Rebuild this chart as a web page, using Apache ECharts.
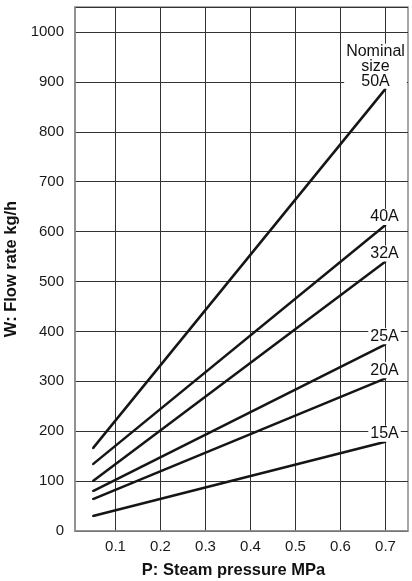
<!DOCTYPE html>
<html>
<head>
<meta charset="utf-8">
<script src="https://cdn.jsdelivr.net/npm/echarts@6/dist/echarts.min.js"></script>
<style>html,body{margin:0;padding:0;background:#fff}#c{width:412px;height:581px}</style>
</head>
<body>
<div id="c"></div>
<script>
// Data
const pressure = [0.05, 0.7];                 // MPa
const sizes = ['50A', '40A', '32A', '25A', '20A', '15A'];
const flow50A = [166, 886];
const flow40A = [134, 613];
const flow32A = [100, 540];
const flow25A = [80, 374];
const flow20A = [64, 306];
const flow15A = [30, 179];
const xTicks = [0.1, 0.2, 0.3, 0.4, 0.5, 0.6, 0.7];
const yMaxLabel = 1000;

const flows = [flow50A, flow40A, flow32A, flow25A, flow20A, flow15A];
const FONT = "'Liberation Sans', Arial, Helvetica, sans-serif";

const series = sizes.map((name, k) => {
  const isFirst = k === 0;
  const last = pressure.length - 1;
  return {
    name: name,
    type: 'line',
    symbol: 'circle',
    symbolSize: 2,
    showSymbol: true,
    z: 5,
    itemStyle: { color: '#151515' },
    lineStyle: { color: '#151515', width: 2.5 },
    data: pressure.map((p, i) => {
      const item = { value: [p, flows[k][i]] };
      if (i === last) {
        item.label = {
          show: true,
          position: 'top',
          distance: 2,
          offset: isFirst ? [-10, 3] : [-1, 3],
          formatter: isFirst ? 'Nominal\nsize\n' + name : name,
          fontFamily: FONT,
          fontSize: 16,
          lineHeight: isFirst ? 15 : 16,
          color: '#111',
          align: 'center',
          backgroundColor: '#fff',
          padding: [0, 2, 0, 2]
        };
      }
      return item;
    })
  };
});

const chart = echarts.init(document.getElementById('c'), null, { renderer: 'canvas' });
chart.setOption({
  animation: false,
  backgroundColor: '#fff',
  textStyle: { fontFamily: FONT },
  grid: {
    left: 75, right: 4, top: 7, bottom: 50,
    outerBoundsMode: 'none',
    containLabel: false,
    show: true, borderColor: '#8c8c8c', borderWidth: 1.5, backgroundColor: 'transparent'
  },
  xAxis: {
    type: 'value',
    min: 0.01,
    max: 0.75,
    name: 'P: Steam pressure MPa',
    nameLocation: 'middle',
    nameGap: 31,
    nameTextStyle: { fontFamily: FONT, fontWeight: 'bold', fontSize: 16.5, color: '#111', padding: [0, 16, 0, 0] },
    axisLine: { show: true, lineStyle: { color: '#8c8c8c', width: 1.5 } },
    axisTick: { show: false, customValues: xTicks },
    axisLabel: { customValues: xTicks, color: '#1a1a1a', fontSize: 15, margin: 8, fontFamily: FONT },
    splitLine: { show: true, lineStyle: { color: '#333', width: 1 } }
  },
  yAxis: {
    type: 'value',
    min: 0,
    max: 1050,
    interval: 100,
    name: 'W: Flow rate kg/h',
    nameLocation: 'middle',
    nameGap: 54,
    nameTextStyle: { fontFamily: FONT, fontWeight: 'bold', fontSize: 16.5, color: '#111' },
    axisLine: { show: true, lineStyle: { color: '#8c8c8c', width: 1.5 } },
    axisTick: { show: false },
    axisLabel: {
      color: '#1a1a1a', fontSize: 15, margin: 11, fontFamily: FONT,
      formatter: v => (v > yMaxLabel ? '' : String(v))
    },
    splitLine: { show: true, lineStyle: { color: '#333', width: 1 } }
  },
  series: series
});
</script>
</body>
</html>
